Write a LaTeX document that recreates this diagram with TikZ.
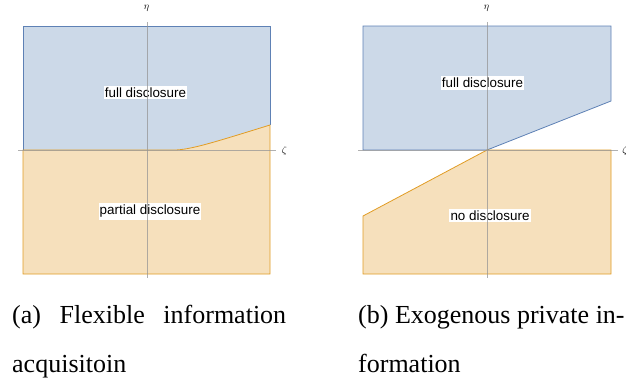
\documentclass[tikz,border=0pt]{standalone}
\usepackage{fontspec}
\setmainfont{Liberation Serif}
\newfontfamily\labfont{Liberation Sans}
\definecolor{bluefill}{RGB}{204,217,232}
\definecolor{blueedge}{RGB}{94,129,181}
\definecolor{orfill}{RGB}{246,224,188}
\definecolor{oredge}{RGB}{225,156,36}
\definecolor{axisgray}{RGB}{150,150,150}
\tikzset{
  bluereg/.style={fill=bluefill, draw=blueedge, line width=0.8pt, line join=miter},
  orreg/.style={fill=orfill, draw=oredge, line width=0.8pt, line join=miter},
  axisline/.style={draw=axisgray, draw opacity=0.75, line width=0.6pt},
  regionlabel/.style={fill=white, inner xsep=1.2pt, inner ysep=2pt, font=\labfont\fontsize{13.4}{15}\selectfont},
  axislabel/.style={inner sep=0pt, font=\fontsize{10}{12}\selectfont},
  captionline/.style={anchor=base west, inner sep=0pt, font=\fontsize{26}{30}\selectfont}
}
\begin{document}
\begin{tikzpicture}[x=1pt,y=-1pt]
\useasboundingbox (0,0) rectangle (626,383);
% ---------- panel (a)
\coordinate (aTL) at (23,26);
\coordinate (aTR) at (270,26);
\coordinate (aCR) at (270,125);
\coordinate (aBend) at (174,150);
\coordinate (aML) at (23,150);
\coordinate (aBR) at (270,274);
\coordinate (aBL) at (23,274);
\fill[bluefill] (aML) -- (aTL) -- (aTR) -- (aCR) .. controls (215,142) and (190,150) .. (aBend) -- cycle;
\draw[blueedge, line width=0.8pt] (aML) -- (aTL) -- (aTR) -- (aCR);
\filldraw[orreg] (aML) -- (aBend) .. controls (190,150) and (215,142) .. (aCR) -- (aBR) -- (aBL) -- cycle;
\coordinate (aAxT) at (147,22);
\coordinate (aAxB) at (147,278);
\coordinate (aAxL) at (18,150);
\coordinate (aAxR) at (276,150);
\node[regionlabel] (afull) at (145.5,92.5) {full disclosure};
\node[regionlabel] (apartial) at (150,211.5) {partial disclosure};
\draw[axisline] (aAxT) -- (aAxB);
\draw[axisline] (aAxL) -- (aAxR);
\node[axislabel] (aeta) at (146.5,8) {$\eta$};
\node[axislabel] (azeta) at (284.5,150.5) {$\zeta$};
% ---------- panel (b)
\coordinate (bTL) at (363,26);
\coordinate (bTR) at (611,26);
\coordinate (bCR) at (611,101);
\coordinate (bO) at (487,150);
\coordinate (bML) at (363,150);
\coordinate (bMR) at (611,150);
\coordinate (bBR) at (611,274);
\coordinate (bBL) at (363,274);
\coordinate (bCL) at (363,216);
\filldraw[bluereg] (bO) -- (bML) -- (bTL) -- (bTR) -- (bCR) -- cycle;
\filldraw[orreg] (bO) -- (bMR) -- (bBR) -- (bBL) -- (bCL) -- cycle;
\coordinate (bAxT) at (487,22);
\coordinate (bAxB) at (487,278);
\coordinate (bAxL) at (358,150);
\coordinate (bAxR) at (618,150);
\node[regionlabel] (bfull) at (482.5,83) {full disclosure};
\node[regionlabel] (bno) at (490,215.5) {no disclosure};
\draw[axisline] (bAxT) -- (bAxB);
\draw[axisline] (bAxL) -- (bAxR);
\node[axislabel] (beta) at (486.5,8) {$\eta$};
\node[axislabel] (bzeta) at (625,150.5) {$\zeta$};
% ---------- captions
\node[captionline] (capa1) at (12,323) {\hbox to 274pt{(a)\hfill Flexible\hfill information}};
\node[captionline] (capa2) at (12,372) {acquisitoin};
\node[captionline] (capb1) at (358,323) {(b) Exogenous private in-};
\node[captionline] (capb2) at (358,372) {formation};
\end{tikzpicture}
\end{document}
